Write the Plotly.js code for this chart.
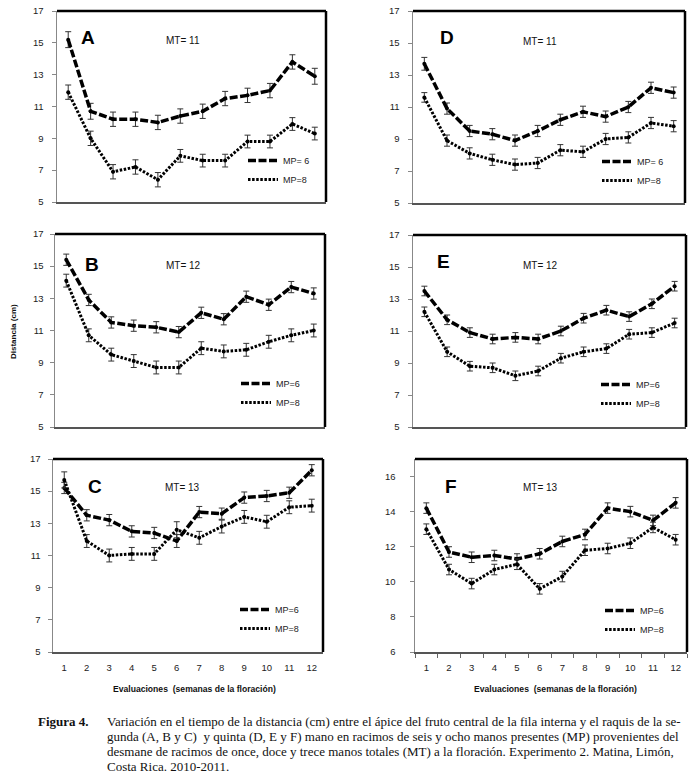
<!DOCTYPE html>
<html>
<head>
<meta charset="utf-8">
<script src="https://cdn.plot.ly/plotly-3.0.1.min.js"></script>
<style>html,body{margin:0;padding:0;background:#fff;}#chart{width:696px;height:781px;}</style>
</head>
<body>
<div id="chart"></div>
<script>
// ---------- data ----------
const weeks = [1, 2, 3, 4, 5, 6, 7, 8, 9, 10, 11, 12];
const tickLabels = ['1','2','3','4','5','6','7','8','9','10','11','12'];

const A6 = [15.2, 10.7, 10.2, 10.2, 10.0, 10.4, 10.7, 11.5, 11.7, 12.0, 13.8, 12.9];
const A8 = [11.9, 9.0, 6.9, 7.2, 6.4, 7.9, 7.6, 7.6, 8.8, 8.8, 9.9, 9.3];
const B6 = [15.4, 12.9, 11.5, 11.3, 11.2, 10.9, 12.1, 11.7, 13.1, 12.6, 13.7, 13.3];
const B8 = [14.1, 10.7, 9.5, 9.1, 8.7, 8.7, 9.9, 9.7, 9.8, 10.3, 10.7, 11.0];
const C6 = [15.2, 13.5, 13.2, 12.5, 12.4, 11.9, 13.7, 13.6, 14.6, 14.7, 14.9, 16.3];
const C8 = [15.7, 11.9, 11.0, 11.1, 11.1, 12.6, 12.1, 12.8, 13.4, 13.1, 14.0, 14.1];
const D6 = [13.7, 10.9, 9.5, 9.3, 8.9, 9.5, 10.2, 10.7, 10.4, 11.0, 12.2, 11.9];
const D8 = [11.6, 8.9, 8.1, 7.7, 7.4, 7.5, 8.3, 8.2, 9.0, 9.1, 10.0, 9.8];
const E6 = [13.5, 11.7, 10.9, 10.5, 10.6, 10.5, 11.0, 11.8, 12.3, 11.9, 12.7, 13.8];
const E8 = [12.2, 9.7, 8.8, 8.7, 8.2, 8.5, 9.3, 9.7, 9.9, 10.8, 10.9, 11.5];
const F6 = [14.2, 11.7, 11.4, 11.5, 11.3, 11.6, 12.3, 12.7, 14.2, 14.0, 13.5, 14.5];
const F8 = [13.0, 10.7, 9.9, 10.7, 11.0, 9.6, 10.3, 11.8, 11.9, 12.2, 13.1, 12.4];

const errA6 = [0.5, 0.5, 0.45, 0.45, 0.45, 0.45, 0.45, 0.45, 0.45, 0.45, 0.45, 0.5];
const errA8 = [0.45, 0.45, 0.45, 0.45, 0.45, 0.4, 0.4, 0.4, 0.4, 0.4, 0.4, 0.4];
const errB6 = [0.35, 0.35, 0.35, 0.35, 0.35, 0.35, 0.35, 0.35, 0.35, 0.35, 0.35, 0.35];
const errB8 = [0.4, 0.4, 0.4, 0.4, 0.4, 0.4, 0.4, 0.4, 0.4, 0.4, 0.4, 0.4];
const errC6 = [0.35, 0.35, 0.35, 0.35, 0.35, 0.4, 0.35, 0.35, 0.35, 0.35, 0.35, 0.35];
const errC8 = [0.5, 0.4, 0.4, 0.4, 0.4, 0.5, 0.4, 0.4, 0.4, 0.4, 0.4, 0.4];
const errD6 = [0.4, 0.35, 0.35, 0.35, 0.35, 0.35, 0.35, 0.35, 0.35, 0.35, 0.35, 0.35];
const errD8 = [0.3, 0.35, 0.35, 0.35, 0.35, 0.35, 0.35, 0.35, 0.35, 0.35, 0.35, 0.35];
const errE6 = [0.3, 0.3, 0.3, 0.3, 0.3, 0.3, 0.3, 0.3, 0.3, 0.3, 0.3, 0.3];
const errE8 = [0.3, 0.3, 0.3, 0.3, 0.3, 0.3, 0.3, 0.3, 0.3, 0.3, 0.3, 0.3];
const errF6 = [0.3, 0.3, 0.3, 0.3, 0.3, 0.3, 0.3, 0.3, 0.3, 0.3, 0.3, 0.3];
const errF8 = [0.3, 0.3, 0.3, 0.3, 0.3, 0.3, 0.3, 0.3, 0.3, 0.3, 0.3, 0.3];

const seriesNames = ['MP=6', 'MP=8'];
const panelLetters = ['A', 'B', 'C', 'D', 'E', 'F'];
const mtLabels = ['MT= 11', 'MT= 12', 'MT= 13', 'MT= 11', 'MT= 12', 'MT= 13'];
const legendNames6 = ['MP= 6', 'MP=6', 'MP=6', 'MP= 6', 'MP=6', 'MP=6'];
const yTitle = 'Distancia (cm)';
const xTitle = 'Evaluaciones  (semanas de la floración)';
const captionHead = 'Figura 4.';
const captionLines = [
  'Variación en el tiempo de la distancia (cm) entre el ápice del fruto central de la fila interna y el raquis de la se-',
  'gunda (A, B y C)  y quinta (D, E y F) mano en racimos de seis y ocho manos presentes (MP) provenientes del',
  'desmane de racimos de once, doce y trece manos totales (MT) a la floración. Experimento 2. Matina, Limón,',
  'Costa Rica. 2010-2011.'
];

// ---------- layout helpers ----------
const W = 696, H = 781;
const px = x => x / W;
const py = y => 1 - y / H;
const SANS = 'Liberation Sans, Arial, sans-serif';
const SERIF = 'Liberation Serif, Times New Roman, serif';

// pixel boxes [left, top, right, bottom] and decoration positions
const panels = [
  {s6: A6, s8: A8, e6: errA6, e8: errA8, box: [57, 11, 326, 202], yr: [5, 17], letter: [88, 38], mt: [183, 41], leg: [243, 146], xt: false, standoff: 6},
  {s6: B6, s8: B8, e6: errB6, e8: errB8, box: [55, 234, 325, 427], yr: [5, 17], letter: [92, 264], mt: [183, 265], leg: [236, 369], xt: false, standoff: 4},
  {s6: C6, s8: C8, e6: errC6, e8: errC8, box: [53, 459, 323, 652], yr: [5, 17], letter: [95, 486], mt: [182, 487], leg: [235, 595], xt: true, standoff: 5},
  {s6: D6, s8: D8, e6: errD6, e8: errD8, box: [413, 11, 685, 203], yr: [5, 17], letter: [447, 38], mt: [540, 42], leg: [597, 147], xt: false, standoff: 6},
  {s6: E6, s8: E8, e6: errE6, e8: errE8, box: [413, 235, 686, 427], yr: [5, 17], letter: [443, 262], mt: [540, 265], leg: [596, 370], xt: false, standoff: 6},
  {s6: F6, s8: F8, e6: errF6, e8: errF8, box: [415, 459, 687, 652], yr: [6, 17], letter: [451, 486], mt: [540, 487], leg: [600, 596], xt: true, standoff: 12, minor: true}
];

const DASH6 = '8px,2.5px';
const DASH8 = '2.5px,1.6px';

const traces = [];
const layout = {
  width: W, height: H,
  margin: {l: 0, r: 0, t: 0, b: 0},
  paper_bgcolor: '#ffffff',
  plot_bgcolor: '#ffffff',
  showlegend: true,
  font: {family: SANS, size: 9, color: '#222'},
  annotations: [],
  shapes: []
};

panels.forEach((p, i) => {
  const n = i === 0 ? '' : String(i + 1);
  const xa = 'x' + n, ya = 'y' + n;
  const legKey = 'legend' + n;
  const [l, t, r, b] = p.box;

  traces.push({
    x: weeks, y: p.s6, xaxis: xa, yaxis: ya, name: seriesNames[0], showlegend: false,
    mode: 'lines+markers', line: {color: '#000', width: 3.5, dash: DASH6},
    marker: {color: '#000', size: 4},
    error_y: {type: 'data', array: p.e6, visible: true, color: '#333', thickness: 1, width: 3}
  });
  traces.push({
    x: weeks, y: p.s8, xaxis: xa, yaxis: ya, name: seriesNames[1], showlegend: false,
    mode: 'lines+markers', line: {color: '#000', width: 3, dash: DASH8},
    marker: {color: '#000', size: 4},
    error_y: {type: 'data', array: p.e8, visible: true, color: '#333', thickness: 1, width: 3}
  });
  // legend entries
  traces.push({
    x: [null], y: [null], xaxis: xa, yaxis: ya, name: legendNames6[i], legend: legKey,
    mode: 'lines', line: {color: '#000', width: 3.5, dash: DASH6}, hoverinfo: 'skip'
  });
  traces.push({
    x: [null], y: [null], xaxis: xa, yaxis: ya, name: seriesNames[1], legend: legKey,
    mode: 'lines', line: {color: '#000', width: 3, dash: DASH8}, hoverinfo: 'skip'
  });

  layout[legKey] = {
    x: px(p.leg[0]), y: py(p.leg[1]), xanchor: 'left', yanchor: 'top',
    bgcolor: 'rgba(0,0,0,0)', borderwidth: 0, itemwidth: 30,
    font: {family: SANS, size: 9, color: '#222'}
  };

  const xaxis = {
    domain: [px(l), px(r)], anchor: ya, range: [0.5, 12.5],
    showgrid: false, zeroline: false, showline: true, linecolor: '#555', linewidth: 1.5,
    fixedrange: true
  };
  if (p.xt) {
    xaxis.tickmode = 'array'; xaxis.tickvals = weeks; xaxis.ticktext = tickLabels;
    xaxis.ticks = ''; xaxis.showticklabels = true;
    xaxis.tickfont = {family: SANS, size: 9.5, color: '#222'};
    xaxis.ticklabelstandoff = 6;
    if (p.minor) {
      xaxis.minor = {tick0: 0.5, dtick: 1, ticks: 'outside', ticklen: 4, tickcolor: '#666', tickwidth: 1};
    }
  } else {
    xaxis.showticklabels = false; xaxis.ticks = '';
  }
  layout['xaxis' + n] = xaxis;

  layout['yaxis' + n] = {
    domain: [py(b), py(t)], anchor: xa, range: p.yr,
    tickmode: 'linear', tick0: p.yr[0], dtick: 2,
    showgrid: false, zeroline: false, showline: true, linecolor: '#888', linewidth: 1.5,
    ticks: 'outside', ticklen: 4, tickcolor: '#888', tickwidth: 1,
    ticklabelstandoff: p.standoff,
    tickfont: {family: SANS, size: 9.5, color: '#222'},
    fixedrange: true
  };

  // heavy top and right frame
  layout.shapes.push({type: 'line', xref: xa + ' domain', yref: ya + ' domain', x0: 0, x1: 1, y0: 1, y1: 1, line: {color: '#000', width: 2.5}});
  layout.shapes.push({type: 'line', xref: xa + ' domain', yref: ya + ' domain', x0: 1, x1: 1, y0: 0, y1: 1, line: {color: '#000', width: 2.5}});

  layout.annotations.push({
    xref: 'paper', yref: 'paper', x: px(p.letter[0]), y: py(p.letter[1]), xanchor: 'center', yanchor: 'middle',
    text: '<b>' + panelLetters[i] + '</b>', showarrow: false, font: {family: SANS, size: 19, color: '#000'}
  });
  layout.annotations.push({
    xref: 'paper', yref: 'paper', x: px(p.mt[0]), y: py(p.mt[1]), xanchor: 'center', yanchor: 'middle',
    text: mtLabels[i], showarrow: false, font: {family: SANS, size: 10, color: '#111'}
  });
});

// axis titles
layout.annotations.push({
  xref: 'paper', yref: 'paper', x: px(14), y: py(332), xanchor: 'center', yanchor: 'middle', textangle: -90,
  text: '<b>' + yTitle + '</b>', showarrow: false, font: {family: SANS, size: 8, color: '#111'}
});
[195, 555].forEach(cx => {
  layout.annotations.push({
    xref: 'paper', yref: 'paper', x: px(cx), y: py(689), xanchor: 'center', yanchor: 'middle',
    text: '<b>' + xTitle + '</b>', showarrow: false, font: {family: SANS, size: 8.6, color: '#111'}
  });
});

// caption
layout.annotations.push({
  xref: 'paper', yref: 'paper', x: px(36), y: py(721), xanchor: 'left', yanchor: 'middle',
  text: '<b>' + captionHead + '</b>', showarrow: false, font: {family: SERIF, size: 13, color: '#111'}
});
captionLines.forEach((line, k) => {
  layout.annotations.push({
    xref: 'paper', yref: 'paper', x: px(105), y: py(721 + 15 * k), xanchor: 'left', yanchor: 'middle',
    text: line, showarrow: false, font: {family: SERIF, size: 13, color: '#111'}
  });
});

Plotly.newPlot('chart', traces, layout, {displayModeBar: false, staticPlot: true});
</script>
</body>
</html>
